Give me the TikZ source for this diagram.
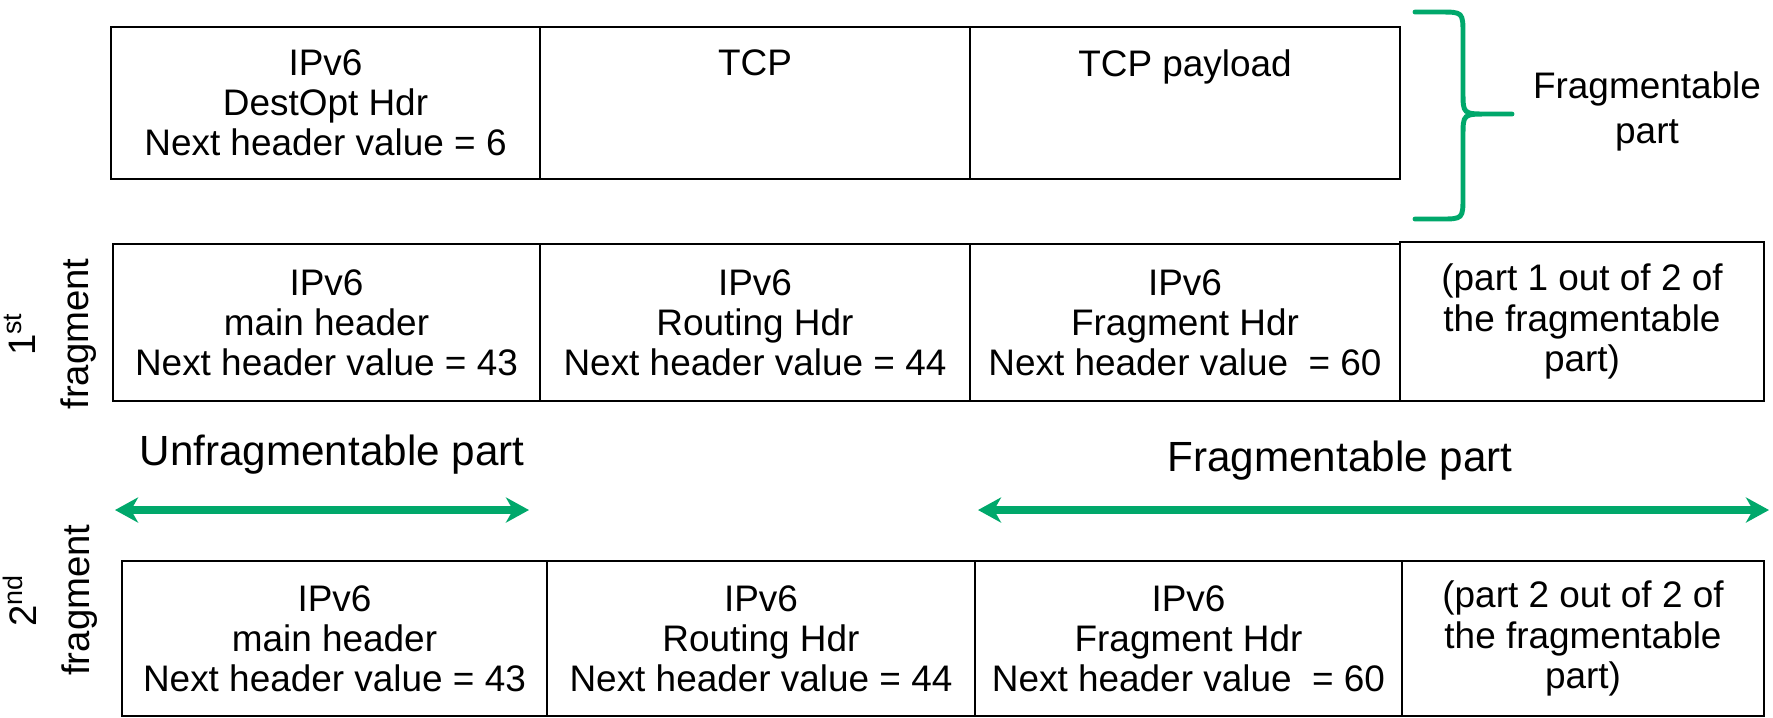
\documentclass[tikz,border=0pt]{standalone}
\usepackage{fontspec}
\setmainfont{Liberation Sans}
\usepackage{tikz}
\usetikzlibrary{arrows.meta}

\definecolor{fraggreen}{RGB}{0,168,107}

\tikzset{
  hdrbox/.style={draw, line width=0.6pt, align=center, inner sep=0pt,
    font=\fontsize{10.5}{11.4}\selectfont},
  partarrow/.style={draw=fraggreen, line width=2.2pt,
    {Stealth[length=2.3mm,width=2.5mm,inset=0.7mm]}-{Stealth[length=2.3mm,width=2.5mm,inset=0.7mm]}},
  partlabel/.style={font=\fontsize{12}{14}\selectfont},
  fraglabel/.style={rotate=90, align=center, font=\fontsize{10.9}{15}\selectfont}
}

\begin{document}
\begin{tikzpicture}[x=0.01cm, y=-0.01cm]
\useasboundingbox (0,0) rectangle (1773,717);

% original packet
\node[hdrbox, minimum width=4.29cm, minimum height=1.52cm] (dest) at (325.5,103)
  {IPv6\\DestOpt Hdr\\Next header value = 6};
\node[hdrbox, minimum width=4.30cm, minimum height=1.52cm] (tcp) at (755,103)
  {TCP\\~\\~};
\node[hdrbox, minimum width=4.30cm, minimum height=1.52cm] (payload) at (1185,103)
  {TCP payload\\~\\~};

% brace
\draw[fraggreen, line width=1.4pt, line cap=round]
  (1415,12) -- (1440,12) .. controls (1463,12) .. (1463,35) -- (1463,92)
  .. controls (1463,114) .. (1488,114) -- (1512,114)
  (1488,114) .. controls (1463,114) .. (1463,136) -- (1463,196)
  .. controls (1463,219) .. (1440,219) -- (1415,219);
\node[align=center, font=\fontsize{10.5}{12.8}\selectfont] (fragtop) at (1647,111)
  {Fragmentable\\part};

% 1st fragment
\node[fraglabel] (first) at (50,334) {1\textsuperscript{st}\\fragment};
\node[hdrbox, minimum width=4.27cm, minimum height=1.57cm] (mainA) at (326.5,322.5)
  {IPv6\\main header\\Next header value = 43};
\node[hdrbox, minimum width=4.30cm, minimum height=1.57cm] (routA) at (755,322.5)
  {IPv6\\Routing Hdr\\Next header value = 44};
\node[hdrbox, minimum width=4.30cm, minimum height=1.57cm] (fragA) at (1185,322.5)
  {IPv6\\Fragment Hdr\\Next header value\ \ = 60};
\node[hdrbox, minimum width=3.64cm, minimum height=1.59cm] (partA) at (1582,321.5)
  {(part 1 out of 2 of\\the fragmentable\\part)};

% parts
\node[partlabel] (unfrag) at (332,455) {Unfragmentable part};
\node[partlabel] (frag) at (1340,461) {Fragmentable part};
\coordinate (ul) at (115,510);
\coordinate (ur) at (529,510);
\coordinate (fl) at (978,510);
\coordinate (fr) at (1769,510);
\draw[partarrow] (ul) -- (ur);
\draw[partarrow] (fl) -- (fr);

% 2nd fragment
\node[fraglabel] (second) at (50,600) {2\textsuperscript{nd}\\fragment};
\node[hdrbox, minimum width=4.25cm, minimum height=1.55cm] (mainB) at (334.5,638.5)
  {IPv6\\main header\\Next header value = 43};
\node[hdrbox, minimum width=4.28cm, minimum height=1.55cm] (routB) at (761,638.5)
  {IPv6\\Routing Hdr\\Next header value = 44};
\node[hdrbox, minimum width=4.27cm, minimum height=1.55cm] (fragB) at (1188.5,638.5)
  {IPv6\\Fragment Hdr\\Next header value\ \ = 60};
\node[hdrbox, minimum width=3.62cm, minimum height=1.55cm] (partB) at (1583,638.5)
  {(part 2 out of 2 of\\the fragmentable\\part)};
\end{tikzpicture}
\end{document}
